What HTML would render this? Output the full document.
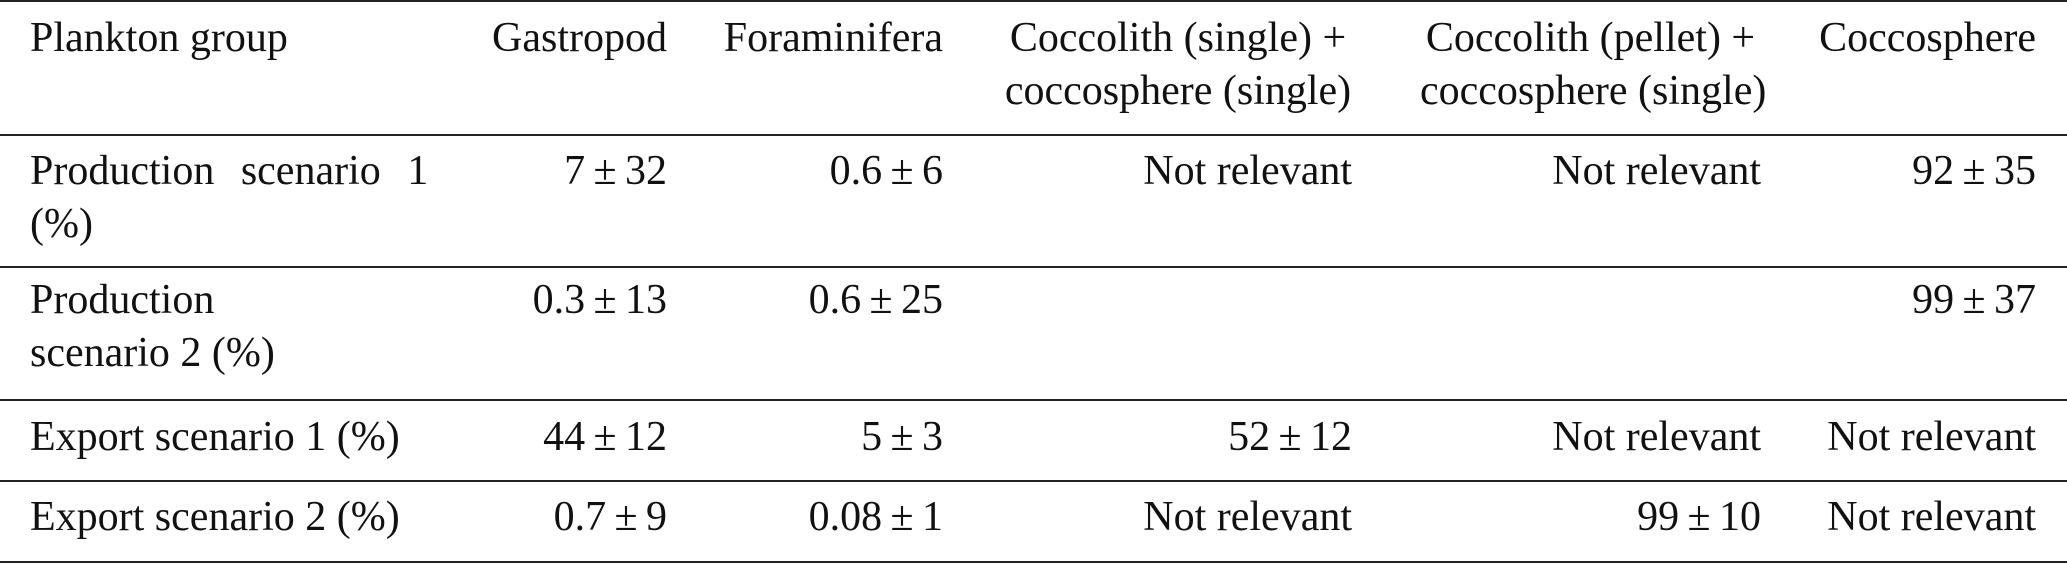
<!DOCTYPE html>
<html><head><meta charset="utf-8"><style>
html,body{margin:0;padding:0;background:#fff;}
body{width:2067px;height:564px;position:relative;overflow:hidden;font-family:"Liberation Serif","DejaVu Serif",serif;font-size:42px;color:#111;}
.t{position:absolute;line-height:42px;white-space:nowrap;}
.r{text-align:right;}
.l{position:absolute;left:0;width:2067px;height:2px;background:#222;}
</style></head><body>
<div class="l" style="top:0"></div>
<div class="l" style="top:134px"></div>
<div class="l" style="top:266px"></div>
<div class="l" style="top:399px"></div>
<div class="l" style="top:480px"></div>
<div class="l" style="top:561px"></div>

<div class="t" style="left:30px;top:17px">Plankton group</div>
<div class="t" style="right:1400px;top:17px">Gastropod</div>
<div class="t" style="right:1124px;top:17px">Foraminifera</div>
<div class="t" style="left:1004px;width:348px;text-align:center;top:17px">Coccolith (single) +</div>
<div class="t" style="left:1004px;width:348px;text-align:center;top:70px">coccosphere (single)</div>
<div class="t" style="left:1420px;width:341px;text-align:center;top:17px">Coccolith (pellet) +</div>
<div class="t" style="left:1420px;width:341px;text-align:center;top:70px">coccosphere (single)</div>
<div class="t" style="right:31px;top:17px">Coccosphere</div>

<div class="t" style="left:30px;top:150px;word-spacing:16px">Production scenario 1</div>
<div class="t" style="left:30px;top:203px">(%)</div>
<div class="t" style="right:1400px;top:150px">7&thinsp;±&thinsp;32</div>
<div class="t" style="right:1124px;top:150px">0.6&thinsp;±&thinsp;6</div>
<div class="t" style="right:715px;top:150px">Not relevant</div>
<div class="t" style="right:306px;top:150px">Not relevant</div>
<div class="t" style="right:31px;top:150px">92&thinsp;±&thinsp;35</div>

<div class="t" style="left:30px;top:279px">Production</div>
<div class="t" style="left:30px;top:332px">scenario 2 (%)</div>
<div class="t" style="right:1400px;top:279px">0.3&thinsp;±&thinsp;13</div>
<div class="t" style="right:1124px;top:279px">0.6&thinsp;±&thinsp;25</div>
<div class="t" style="right:31px;top:279px">99&thinsp;±&thinsp;37</div>

<div class="t" style="left:30px;top:416px">Export scenario 1 (%)</div>
<div class="t" style="right:1400px;top:416px">44&thinsp;±&thinsp;12</div>
<div class="t" style="right:1124px;top:416px">5&thinsp;±&thinsp;3</div>
<div class="t" style="right:715px;top:416px">52&thinsp;±&thinsp;12</div>
<div class="t" style="right:306px;top:416px">Not relevant</div>
<div class="t" style="right:31px;top:416px">Not relevant</div>

<div class="t" style="left:30px;top:496px">Export scenario 2 (%)</div>
<div class="t" style="right:1400px;top:496px">0.7&thinsp;±&thinsp;9</div>
<div class="t" style="right:1124px;top:496px">0.08&thinsp;±&thinsp;1</div>
<div class="t" style="right:715px;top:496px">Not relevant</div>
<div class="t" style="right:306px;top:496px">99&thinsp;±&thinsp;10</div>
<div class="t" style="right:31px;top:496px">Not relevant</div>
</body></html>
